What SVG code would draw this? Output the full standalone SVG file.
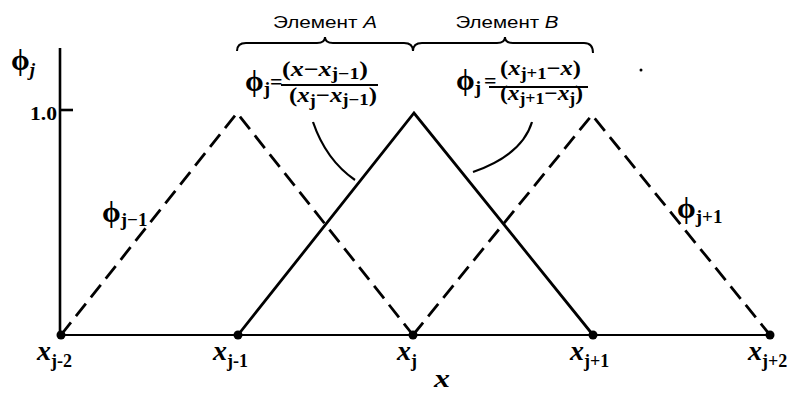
<svg xmlns="http://www.w3.org/2000/svg" width="799" height="396" viewBox="0 0 799 396">
<style>
.ax{stroke:#000;stroke-width:2.6;fill:none}
.base{stroke:#000;stroke-width:2.2;fill:none}
.solid{stroke:#000;stroke-width:2.8;fill:none;stroke-linejoin:miter}
.dash{stroke:#000;stroke-width:2.8;fill:none;stroke-dasharray:16 8}
.lead{stroke:#000;stroke-width:2.2;fill:none}
.brace{stroke:#000;stroke-width:2;fill:none}
.dot{fill:#000}
.m{font-family:"Liberation Serif",serif;font-weight:bold;fill:#000}
.it{font-style:italic}
.lab{font-family:"Liberation Sans",sans-serif;font-size:17px;fill:#000}
</style>
<rect width="799" height="396" fill="#fff"/>
<g id="axes">
<line class="ax" x1="60" y1="48" x2="60" y2="336"/>
<line class="ax" x1="60" y1="110" x2="73" y2="110"/>
<line class="base" x1="61" y1="335" x2="770" y2="335"/>
<text class="m" x="11" y="70" font-size="30">ϕ<tspan class="it" font-size="19" dy="6">j</tspan></text>
<text class="m" x="30" y="120" font-size="18" textLength="27" lengthAdjust="spacingAndGlyphs">1.0</text>
<text class="m it" x="434" y="387" font-size="26" textLength="16" lengthAdjust="spacingAndGlyphs">x</text>
</g>
<g id="connectors">
<polyline id="phi-jm1" class="dash" points="61,335 237,113 413,335"/>
<polyline id="phi-j" class="solid" points="238,335 414,113 593,335"/>
<polyline id="phi-jp1" class="dash" points="413,335 592,115 770,335"/>
<path class="lead" d="M313,122 Q326,160 355,180"/>
<path class="lead" d="M532,122 Q522,155 473,172"/>
</g>
<g id="element-A">
<path class="brace" d="M237,51 Q237,43 246,43 L317,43 Q325,43 325,37 Q325,43 333,43 L404,43 Q413,43 413,51"/>
<text class="lab" x="325" y="28" text-anchor="middle" textLength="104" lengthAdjust="spacingAndGlyphs">Элемент <tspan font-style="italic">A</tspan></text>
</g>
<g id="element-B">
<path class="brace" d="M413,51 Q413,43 422,43 L497,43 Q505,43 505,37 Q505,43 513,43 L584,43 Q593,43 593,53"/>
<text class="lab" x="507" y="28" text-anchor="middle" textLength="103" lengthAdjust="spacingAndGlyphs">Элемент <tspan font-style="italic">B</tspan></text>
</g>
<g id="formula-A">
<text class="m" x="245" y="91" font-size="30">ϕ<tspan font-size="19" dy="4">j</tspan><tspan font-size="22" dy="-6">=</tspan></text>
<line class="base" x1="281" y1="85" x2="378" y2="85"/>
<text class="m" x="282" y="76" font-size="21" textLength="86" lengthAdjust="spacingAndGlyphs">(<tspan class="it">x</tspan>−<tspan class="it">x</tspan><tspan font-size="16" dy="3">j−1</tspan><tspan dy="-3">)</tspan></text>
<text class="m" x="289" y="102" font-size="21" textLength="88" lengthAdjust="spacingAndGlyphs">(<tspan class="it">x</tspan><tspan font-size="16" dy="4">j</tspan><tspan dy="-4">−</tspan><tspan class="it">x</tspan><tspan font-size="16" dy="3">j−1</tspan><tspan dy="-3">)</tspan></text>
</g>
<g id="formula-B">
<text class="m" x="456" y="90" font-size="30">ϕ<tspan font-size="19" dy="4">j</tspan><tspan font-size="22" dx="3" dy="-6">=</tspan></text>
<line class="base" x1="489" y1="87" x2="588" y2="87"/>
<text class="m" x="500" y="75" font-size="21" textLength="81" lengthAdjust="spacingAndGlyphs">(<tspan class="it">x</tspan><tspan font-size="16" dy="4">j+1</tspan><tspan dy="-4">−</tspan><tspan class="it">x</tspan>)</text>
<text class="m" x="500" y="100" font-size="21" textLength="83" lengthAdjust="spacingAndGlyphs">(<tspan class="it">x</tspan><tspan font-size="16" dy="4">j+1</tspan><tspan dy="-4">−</tspan><tspan class="it">x</tspan><tspan font-size="16" dy="4">j</tspan><tspan dy="-4">)</tspan></text>
</g>
<g id="label-phi-jm1">
<text class="m" x="102" y="222" font-size="30">ϕ<tspan font-size="19" dy="4">j−1</tspan></text>
</g>
<g id="label-phi-jp1">
<text class="m" x="677" y="218" font-size="30">ϕ<tspan font-size="19" dy="5">j+1</tspan></text>
</g>
<g id="node-xjm2">
<circle class="dot" cx="61" cy="335" r="4.5"/>
<text class="m" x="37" y="360" font-size="28"><tspan class="it">x</tspan><tspan font-size="18" dy="7">j-2</tspan></text>
</g>
<g id="node-xjm1">
<circle class="dot" cx="238" cy="335" r="4.5"/>
<text class="m" x="213" y="360" font-size="28"><tspan class="it">x</tspan><tspan font-size="18" dy="7">j-1</tspan></text>
</g>
<g id="node-xj">
<circle class="dot" cx="413" cy="335" r="4.5"/>
<text class="m" x="397" y="360" font-size="28"><tspan class="it">x</tspan><tspan font-size="18" dy="7">j</tspan></text>
</g>
<g id="node-xjp1">
<circle class="dot" cx="593" cy="335" r="4.5"/>
<text class="m" x="570" y="360" font-size="28"><tspan class="it">x</tspan><tspan font-size="18" dy="7">j+1</tspan></text>
</g>
<g id="node-xjp2">
<circle class="dot" cx="770" cy="335" r="4.5"/>
<text class="m" x="748" y="360" font-size="28"><tspan class="it">x</tspan><tspan font-size="18" dy="7">j+2</tspan></text>
</g>
<circle class="dot" cx="641" cy="70" r="1.5"/>
</svg>
